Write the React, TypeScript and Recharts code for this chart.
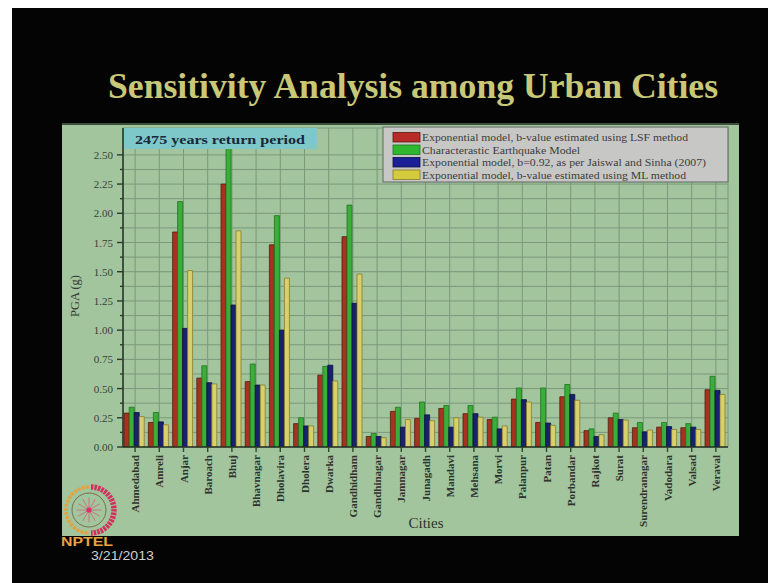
import React from 'react';
import { BarChart, Bar, XAxis, YAxis, CartesianGrid } from 'recharts';

// Cities along the category axis
const cities = [
  'Ahmedabad', 'Amreli', 'Anjar', 'Baroach', 'Bhuj', 'Bhavnagar', 'Dholavira', 'Dholera',
  'Dwarka', 'Gandhidham', 'Gandhinagar', 'Jamnagar', 'Junagadh', 'Mandavi', 'Mehsana',
  'Morvi', 'Palanpur', 'Patan', 'Porbandar', 'Rajkot', 'Surat', 'Surendranagar',
  'Vadodara', 'Valsad', 'Veraval',
];

// PGA (g) for a 2475 year return period, one array per model
const lsfValues = [
  0.29, 0.21, 1.84, 0.59, 2.25, 0.56, 1.73, 0.2, 0.615, 1.8, 0.09, 0.305, 0.245, 0.33, 0.285,
  0.235, 0.41, 0.21, 0.43, 0.14, 0.25, 0.165, 0.17, 0.165, 0.49,
];
const characteristicValues = [
  0.34, 0.295, 2.1, 0.695, 2.58, 0.71, 1.98, 0.25, 0.69, 2.07, 0.115, 0.34, 0.385, 0.355, 0.355,
  0.255, 0.505, 0.505, 0.535, 0.155, 0.29, 0.21, 0.21, 0.2, 0.605,
];
const jaiswalValues = [
  0.295, 0.215, 1.015, 0.55, 1.215, 0.53, 1.0, 0.18, 0.7, 1.23, 0.09, 0.17, 0.275, 0.17, 0.285,
  0.155, 0.405, 0.205, 0.45, 0.09, 0.235, 0.13, 0.175, 0.17, 0.485,
];
const mlValues = [
  0.26, 0.19, 1.51, 0.54, 1.85, 0.53, 1.445, 0.18, 0.565, 1.48, 0.08, 0.235, 0.225, 0.25, 0.255,
  0.18, 0.385, 0.185, 0.4, 0.105, 0.23, 0.145, 0.15, 0.15, 0.45,
];

const seriesNames = [
  'Exponential model, b-value estimated using LSF method',
  'Characterastic Earthquake Model',
  'Exponential model, b=0.92, as per Jaiswal and Sinha (2007)',
  'Exponential model, b-value estimated using ML method',
];

// Y ticks every 0.125; only the quarter values carry a label
const yTickValues = [
  0, 0.125, 0.25, 0.375, 0.5, 0.625, 0.75, 0.875, 1, 1.125, 1.25, 1.375, 1.5, 1.625, 1.75,
  1.875, 2, 2.125, 2.25, 2.375, 2.5,
];

const series = [
  { key: 'lsf', name: seriesNames[0], values: lsfValues, fill: '#a43320', stroke: '#5a1a10', swatch: '#b82b28' },
  { key: 'characteristic', name: seriesNames[1], values: characteristicValues, fill: '#3aae38', stroke: '#1f7420', swatch: '#2fb82f' },
  { key: 'jaiswal', name: seriesNames[2], values: jaiswalValues, fill: '#17216c', stroke: '#0a0f40', swatch: '#1b1f98' },
  { key: 'ml', name: seriesNames[3], values: mlValues, fill: '#d8d06c', stroke: '#857b2a', swatch: '#d4cc3c' },
];

const legendTextWidths = [266, 158, 284, 264];

const data = cities.map((city, i) => {
  const row: Record<string, string | number> = { city };
  series.forEach((s) => {
    row[s.key] = s.values[i];
  });
  return row;
});

const SERIF = '"Liberation Serif", "Times New Roman", "DejaVu Serif", serif';
const SANS = '"Liberation Sans", Arial, "DejaVu Sans", sans-serif';

const YTick = (props: any) => {
  const { x, y, payload } = props;
  const v = payload.value as number;
  const major = Math.abs(v * 4 - Math.round(v * 4)) < 1e-6;
  const axisX = x + 10;
  return (
    <g>
      <line x1={axisX} x2={axisX - (major ? 6 : 3)} y1={y} y2={y} stroke="#2c3a2c" strokeWidth={1.4} />
      {major && (
        <text x={x} y={y} dy={4} textAnchor="end" fontFamily={SERIF} fontSize={11} fill="#3a3f3a">
          {v.toFixed(2)}
        </text>
      )}
    </g>
  );
};

const XTick = (props: any) => {
  const { x, y, payload } = props;
  return (
    <text
      transform={`translate(${x},${y + 1}) rotate(-90)`}
      x={0}
      y={0}
      dy={4}
      textAnchor="end"
      fontFamily={SERIF}
      fontSize={11}
      fontWeight="bold"
      fill="#2e332e"
    >
      {payload.value}
    </text>
  );
};

const logoSpokes = [0, 30, 60, 90, 120, 150, 180, 210, 240, 270, 300, 330];

export default function App() {
  return (
    <div style={{ position: 'absolute', left: 0, top: 0, width: 768, height: 583, background: '#ffffff', overflow: 'hidden' }}>
      <div style={{ position: 'absolute', left: 12, top: 8, width: 756, height: 575, background: '#040404' }} />
      <div
        style={{
          position: 'absolute',
          left: 62,
          top: 123,
          width: 677,
          height: 413,
          background: '#a2c59d',
          borderTop: '2px solid #3c4e3c',
          boxSizing: 'border-box',
        }}
      />
      <div style={{ position: 'absolute', left: 0, top: 0 }}>
        <BarChart
          width={768}
          height={583}
          data={data}
          margin={{ top: 128, right: 40, bottom: 56, left: 63 }}
          barCategoryGap="5%"
          barGap={0}
        >
          <CartesianGrid stroke="#7b987a" strokeWidth={1} />
          <XAxis
            dataKey="city"
            interval={0}
            height={80}
            tick={<XTick />}
            tickSize={5}
            tickMargin={2}
            axisLine={{ stroke: '#243024', strokeWidth: 1.5 }}
            tickLine={{ stroke: '#2f4a2f', strokeWidth: 1.4 }}
          />
          <XAxis
            xAxisId="top"
            dataKey="city"
            orientation="top"
            height={0}
            tick={false}
            tickLine={false}
            axisLine={{ stroke: '#243024', strokeWidth: 1.5 }}
          />
          <YAxis
            width={60}
            domain={[0, 2.73]}
            ticks={yTickValues}
            interval={0}
            allowDataOverflow
            tick={<YTick />}
            tickLine={false}
            tickSize={6}
            tickMargin={4}
            axisLine={{ stroke: '#243024', strokeWidth: 1.5 }}
          />
          <YAxis
            yAxisId="right"
            orientation="right"
            width={0}
            tick={false}
            tickLine={false}
            axisLine={{ stroke: '#243024', strokeWidth: 1.5 }}
          />
          {series.map((s) => (
            <Bar
              key={s.key}
              dataKey={s.key}
              name={s.name}
              fill={s.fill}
              stroke={s.stroke}
              strokeWidth={0.8}
              isAnimationActive={false}
            />
          ))}
        </BarChart>
      </div>
      <svg width={768} height={583} style={{ position: 'absolute', left: 0, top: 0 }}>
        <text
          x={413}
          y={98}
          textAnchor="middle"
          fontFamily={SERIF}
          fontWeight="bold"
          fontSize={36}
          fill="#c8c878"
          textLength={610}
          lengthAdjust="spacingAndGlyphs"
        >
          Sensitivity Analysis among Urban Cities
        </text>

        <rect x={124} y={128} width={193} height={21} fill="#7fc8c9" />
        <text
          x={135}
          y={144}
          fontFamily={SERIF}
          fontWeight="bold"
          fontSize={13.5}
          fill="#17283a"
          textLength={170}
          lengthAdjust="spacingAndGlyphs"
        >
          2475 years return period
        </text>

        <rect x={383} y={127} width={345} height={55} fill="#c7c8c5" stroke="#6f766f" strokeWidth={1.2} />
        {series.map((s, i) => (
          <g key={s.key}>
            <rect x={393} y={132.5 + i * 12.5} width={27} height={9.5} fill={s.swatch} stroke={s.stroke} strokeWidth={0.8} />
            <text
              x={422}
              y={141 + i * 12.5}
              fontFamily={SERIF}
              fontSize={10}
              fill="#3c3c3c"
              textLength={legendTextWidths[i]}
              lengthAdjust="spacingAndGlyphs"
            >
              {s.name}
            </text>
          </g>
        ))}

        <text
          transform="translate(79,296) rotate(-90)"
          textAnchor="middle"
          fontFamily={SERIF}
          fontSize={12.5}
          fill="#333833"
        >
          PGA (g)
        </text>
        <text x={426} y={528} textAnchor="middle" fontFamily={SERIF} fontSize={15} fill="#2c322c">
          Cities
        </text>

        <g transform="translate(89,510)">
          <path d="M 0 -23 A 23 23 0 0 0 0 23" fill="none" stroke="#e2a23c" strokeWidth={3.5} strokeDasharray="3 1.2" />
          <path d="M 2 -23 A 23 23 0 0 1 2 23" fill="none" stroke="#d2305c" strokeWidth={5.5} strokeDasharray="2.5 1" />
          <circle r={17} fill="none" stroke="#6a5a3a" strokeWidth={0.8} />
          {logoSpokes.map((a) => (
            <line
              key={a}
              x1={0}
              y1={0}
              x2={12.5 * Math.cos((a * Math.PI) / 180)}
              y2={12.5 * Math.sin((a * Math.PI) / 180)}
              stroke="#c8707a"
              strokeWidth={0.9}
            />
          ))}
          <circle r={2.6} fill="#e0306a" />
        </g>
        <text
          x={61}
          y={546}
          fontFamily={SANS}
          fontWeight="bold"
          fontSize={13}
          fill="#e8a440"
          textLength={52}
          lengthAdjust="spacingAndGlyphs"
        >
          NPTEL
        </text>
        <text
          x={91}
          y={560}
          fontFamily={SANS}
          fontSize={13}
          fill="#cfcfcf"
          textLength={63}
          lengthAdjust="spacingAndGlyphs"
        >
          3/21/2013
        </text>
      </svg>
    </div>
  );
}
